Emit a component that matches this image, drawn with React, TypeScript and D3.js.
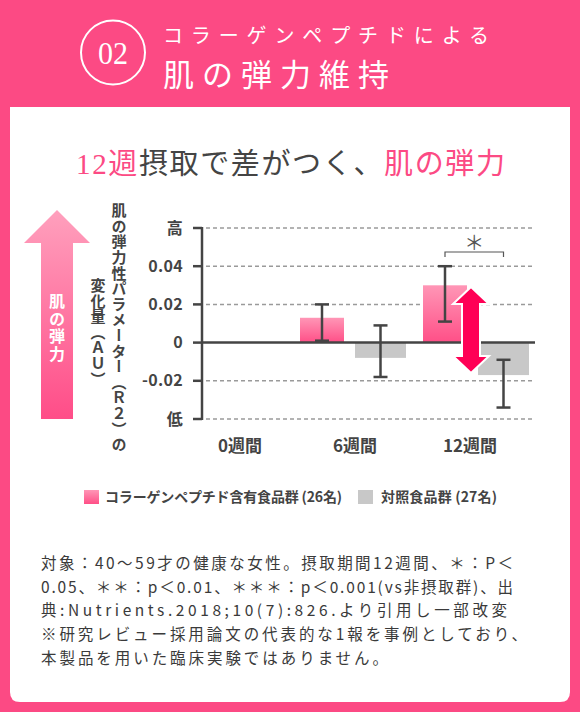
import React from "react";
import * as d3 from "d3";

const categories = ["0週間", "6週間", "12週間"];
const collagenMean = [null, 0.013, 0.03];
const collagenHigh = [null, 0.02, 0.04];
const collagenLow = [null, 0.001, 0.011];
const controlMean = [null, -0.008, -0.017];
const controlHigh = [null, 0.009, -0.009];
const controlLow = [null, -0.018, -0.034];
const yTickValues = [-0.04, -0.02, 0, 0.02, 0.04, 0.06];
const yTickLabels = ["低", "-0.02", "0", "0.02", "0.04", "高"];
const legendLabels = ["コラーゲンペプチド含有食品群 (26名)", "対照食品群 (27名)"];
const noteLines = [
  "対象：40～59才の健康な女性。摂取期間12週間、＊：P＜",
  "0.05、＊＊：p＜0.01、＊＊＊：p＜0.001(vs非摂取群)、出",
  "典:Nutrients.2018;10(7):826.より引用し一部改変",
  "※研究レビュー採用論文の代表的な1報を事例としており、",
  "本製品を用いた臨床実験ではありません。",
];
const noteWidths = [472, 472, 466, 486, 347];

const PINK = "#fc4a84";
const DARK = "#444";
const JP = "'Noto Sans CJK JP', sans-serif";

export default function App() {
  const y = d3.scaleLinear().domain([-0.04, 0.06]).range([419, 228]);
  const xc = d3.scalePoint<string>().domain(categories).range([230, 476]);
  const xl = d3.scalePoint<string>().domain(categories).range([240, 470]);
  const x0 = 202, x1 = 535;

  const whitePanel = `M10,107 H570 V692 Q570,702 560,702 H20 Q10,702 10,692 Z`;
  const leftArrow = `M57,210 L90,243 L73,243 L73,419 L41,419 L41,243 L24,243 Z`;

  const ax = 471, aTop = 287, aBot = 373;
  const dbl = `M${ax},${aTop} L${ax + 18},${aTop + 17} L${ax + 9},${aTop + 17} L${ax + 9},${aBot - 17} L${ax + 18},${aBot - 17} L${ax},${aBot} L${ax - 18},${aBot - 17} L${ax - 9},${aBot - 17} L${ax - 9},${aTop + 17} L${ax - 18},${aTop + 17} Z`;

  const errBar = (cx: number, hi: number, lo: number, key: string) => (
    <g key={key} stroke={DARK} strokeWidth={2.5}>
      <line x1={cx} x2={cx} y1={y(hi)} y2={y(lo)} />
      <line x1={cx - 7} x2={cx + 7} y1={y(hi)} y2={y(hi)} />
      <line x1={cx - 7} x2={cx + 7} y1={y(lo)} y2={y(lo)} />
    </g>
  );

  return (
    <div>
      <style>{`body{margin:0}`}</style>
      <svg width={580} height={712} style={{ display: "block" }}>
        <defs>
          <linearGradient id="pinkBar" x1="0" y1="0" x2="0" y2="1">
            <stop offset="0" stopColor="#ff96b6" />
            <stop offset="1" stopColor="#ff4f87" />
          </linearGradient>
          <linearGradient id="leftArr" x1="0" y1="0" x2="0" y2="1">
            <stop offset="0" stopColor="#ffa0bd" />
            <stop offset="1" stopColor="#ff4d88" />
          </linearGradient>
        </defs>
        <rect x={0} y={0} width={580} height={712} fill={PINK} />
        <path d={whitePanel} fill="#fff" />

        {/* header */}
        <circle cx={113} cy={52.5} r={32} fill="none" stroke="#fff" strokeWidth={2} />
        <text x={113} y={64} fill="#fff" fontFamily="'Liberation Serif', serif" fontSize={31} textAnchor="middle" textLength={30} lengthAdjust="spacingAndGlyphs">02</text>
        <text x={163} y={43} fill="#fff" fontFamily={JP} fontSize={20} textLength={326} lengthAdjust="spacing">コラーゲンペプチドによる</text>
        <text x={163} y={86} fill="#fff" fontFamily={JP} fontSize={31} textLength={226} lengthAdjust="spacing">肌の弾力維持</text>

        {/* title */}
        <text x={76} y={174} fontFamily={`'Liberation Serif', ${JP}`} fontSize={29} fill={DARK} textLength={429} lengthAdjust="spacing">
          <tspan fill={PINK}>12週</tspan>
          <tspan>摂取で差がつく、</tspan>
          <tspan fill={PINK}>肌の弾力</tspan>
        </text>

        {/* left arrow */}
        <path d={leftArrow} fill="url(#leftArr)" />
        <text x={57} y={293} fill="#fff" fontFamily={JP} fontWeight={700} fontSize={16} style={{ writingMode: "vertical-rl" }} letterSpacing={1.5}>肌の弾力</text>

        {/* y axis title */}
        <text x={119} y={203} fill={DARK} fontFamily={JP} fontWeight={700} fontSize={15} style={{ writingMode: "vertical-rl" }} letterSpacing={0.6}>肌の弾力性パラメーター（Ｒ２）の</text>
        <text x={98} y={278} fill={DARK} fontFamily={JP} fontWeight={700} fontSize={15} style={{ writingMode: "vertical-rl" }} letterSpacing={0.6}>変化量（ＡＵ）</text>

        {/* grid */}
        {yTickValues.map((v, i) =>
          v === 0 ? null : (
            <line key={"g" + i} x1={x0 + 4} x2={x1} y1={y(v)} y2={y(v)} stroke="#9a9a9a" strokeWidth={1.5} strokeDasharray="4 3" />
          )
        )}
        {/* ticks and labels */}
        {yTickValues.map((v, i) => (
          <g key={"t" + i}>
            <line x1={x0 - 9} x2={x0} y1={y(v)} y2={y(v)} stroke={DARK} strokeWidth={2.5} />
            <text x={183} y={y(v) + 5.5} textAnchor="end" fontFamily={JP} fontWeight={700} fontSize={16} fill={DARK} letterSpacing={0.3}>{yTickLabels[i]}</text>
          </g>
        ))}

        {/* bars */}
        {categories.map((c, i) => {
          const cx = xc(c)!;
          const out: React.ReactNode[] = [];
          const cm = collagenMean[i];
          const km = controlMean[i];
          if (cm !== null) {
            out.push(<rect key={"p" + i} x={cx - 53} width={44} y={y(Math.max(0, cm))} height={Math.abs(y(cm) - y(0))} fill="url(#pinkBar)" />);
          }
          if (km !== null) {
            out.push(<rect key={"k" + i} x={cx + 2} width={51} y={y(Math.max(0, km))} height={Math.abs(y(km) - y(0))} fill="#c8c8c8" />);
          }
          return <g key={c}>{out}</g>;
        })}
        {/* zero line & axis */}
        <line x1={x0} x2={x1} y1={y(0)} y2={y(0)} stroke={DARK} strokeWidth={2.5} />
        <line x1={x0} x2={x0} y1={y(0.06) - 1} y2={y(-0.04) + 1} stroke={DARK} strokeWidth={2.5} />
        {/* error bars */}
        {categories.map((c, i) => {
          const cx = xc(c)!;
          const out: React.ReactNode[] = [];
          if (collagenHigh[i] !== null) out.push(errBar(cx - 31, collagenHigh[i]!, collagenLow[i]!, "ep" + i));
          if (controlHigh[i] !== null) out.push(errBar(cx + 27.5, controlHigh[i]!, controlLow[i]!, "ek" + i));
          return <g key={"e" + c}>{out}</g>;
        })}

        {/* double arrow */}
        <path d={dbl} fill="#ff0055" stroke="#fff" strokeWidth={2} strokeLinejoin="miter" />

        {/* significance */}
        {(() => {
          const cx = xc("12週間")!;
          const a = cx - 31, b = cx + 27.5;
          return (
            <g>
              <path d={`M${a},257 V252 H${b} V257`} fill="none" stroke="#555" strokeWidth={1.2} />
              <text x={(a + b) / 2} y={250} textAnchor="middle" fontFamily={JP} fontSize={20} fill="#555">＊</text>
            </g>
          );
        })()}

        {/* category labels */}
        {categories.map((c) => (
          <text key={"l" + c} x={xl(c)!} y={452} textAnchor="middle" fontFamily={JP} fontWeight={700} fontSize={17} fill={DARK}>{c}</text>
        ))}

        {/* legend */}
        <rect x={84} y={490} width={15} height={14} fill="url(#pinkBar)" />
        <text x={105} y={502} fontFamily={JP} fontWeight={700} fontSize={14} fill={DARK} textLength={237} lengthAdjust="spacing">{legendLabels[0]}</text>
        <rect x={358} y={490} width={15} height={14} fill="#c8c8c8" />
        <text x={381} y={502} fontFamily={JP} fontWeight={700} fontSize={14} fill={DARK} textLength={116} lengthAdjust="spacing">{legendLabels[1]}</text>

        {/* notes */}
        {noteLines.map((t, i) => (
          <text key={"n" + i} x={41} y={569 + i * 23.7} fontFamily={JP} fontSize={15.5} fill="#3a3a3a" textLength={noteWidths[i]} lengthAdjust="spacing">{t}</text>
        ))}
      </svg>
    </div>
  );
}
